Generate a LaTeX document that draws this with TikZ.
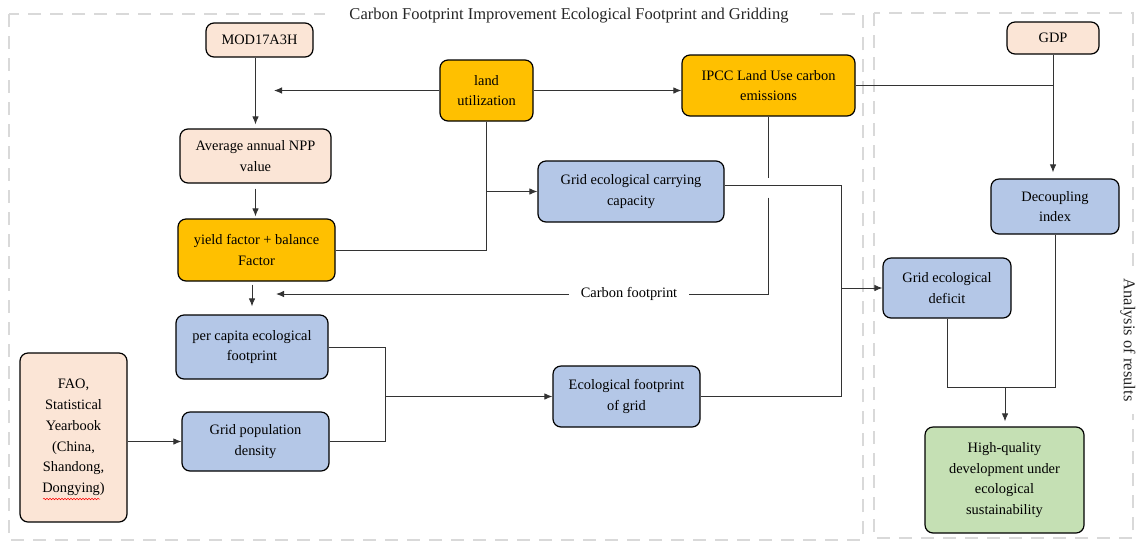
\documentclass[tikz,border=0pt]{standalone}
\usepackage{fontspec}
\setmainfont{Liberation Serif}
\usetikzlibrary{arrows.meta,decorations.pathmorphing}
\definecolor{peach}{HTML}{FBE5D6}
\definecolor{amber}{HTML}{FFC000}
\definecolor{steel}{HTML}{B4C7E7}
\definecolor{sage}{HTML}{C5E0B4}
\definecolor{framegray}{HTML}{D9D9D9}
\newcommand{\diagfont}{\fontsize{14.4}{20.7}\selectfont}
\newcommand{\headfont}{\fontsize{16.5}{19}\selectfont}
\tikzset{
	stagebox/.style = {align=center, inner sep=0pt, font=\diagfont,
		text=black, draw=black, line width=1.2pt, rounded corners=8pt},
	peachbox/.style = {stagebox, fill=peach},
	amberbox/.style = {stagebox, fill=amber},
	steelbox/.style = {stagebox, fill=steel},
	sagebox/.style = {stagebox, fill=sage},
	frame/.style = {draw=framegray, line width=2.6pt, dash pattern=on 13pt off 9pt},
	framelabel/.style = {font=\headfont, text=black!85, fill=white, inner ysep=2pt},
	link/.style = {draw=black!80, line width=0.9pt}
}

\begin{document}
\begin{tikzpicture}[>={Latex[length=8pt,width=6.5pt]}, x=1pt, y=-1pt]
\useasboundingbox (0,0) rectangle (1147,542);
%----------------- Frames --------------
\draw[frame] (9,14) rectangle (863,540);
\draw[frame] (874,13) rectangle (1133,538);
\node (T1) [framelabel, inner xsep=24pt] at (569,16)
	{Carbon Footprint Improvement Ecological Footprint and Gridding};
\node (T2) [framelabel, rotate=-90, inner xsep=13pt] at (1128,340) {Analysis of results};
%----------------- Boxes --------------
\node (mod) [peachbox, minimum width=107pt, minimum height=34pt] at (259.5,40) {MOD17A3H};
\node (land) [amberbox, minimum width=93pt, minimum height=61pt] at (486.5,90.5) {land\\utilization};
\node (ipcc) [amberbox, minimum width=173pt, minimum height=61pt] at (768.5,85.5)
	{IPCC Land Use carbon\\emissions};
\node (gdp) [peachbox, minimum width=92pt, minimum height=32pt] at (1053,38) {GDP};
\node (npp) [peachbox, minimum width=151pt, minimum height=54pt] at (255.5,156)
	{Average annual NPP\\value};
\node (yield) [amberbox, minimum width=157pt, minimum height=62pt] at (256.5,250)
	{yield factor + balance\\Factor};
\node (carry) [steelbox, minimum width=186pt, minimum height=61pt] at (631,191.5)
	{Grid ecological carrying\\capacity};
\node (decoup) [steelbox, minimum width=128pt, minimum height=55pt] at (1055,206.5)
	{Decoupling\\index};
\node (deficit) [steelbox, minimum width=128pt, minimum height=60pt] at (947,288)
	{Grid ecological\\deficit};
\node (percap) [steelbox, minimum width=152pt, minimum height=64pt] at (252,347)
	{per capita ecological\\footprint};
\node (fao) [peachbox, minimum width=107pt, minimum height=169pt] at (73.5,437.5)
	{FAO,\\Statistical\\Yearbook\\(China,\\Shandong,\\Dongying)};
\node (gridpop) [steelbox, minimum width=147pt, minimum height=59pt] at (255.5,441.5)
	{Grid population\\density};
\node (ecofp) [steelbox, minimum width=147pt, minimum height=61pt] at (626.5,396.5)
	{Ecological footprint\\of grid};
\node (hq) [sagebox, minimum width=159pt, minimum height=106pt] at (1004.5,480)
	{High-quality\\development under\\ecological\\sustainability};
\node (cfp) [font=\diagfont, inner xsep=12pt, inner ysep=2pt] at (629,294) {Carbon footprint};
% spell-check mark
\draw[red, line width=0.5pt, decorate, decoration={snake, amplitude=0.8pt, segment length=3pt}]
	(43,499) -- (100,499);
%----------------- Junctions --------------
\coordinate (landtip) at (274,90.5);
\coordinate (cfptip) at (276,294);
\coordinate (bus) at (841,0);
\coordinate (merge) at (385,0);
\coordinate (join) at (1005,387);
%----------------- Connectors --------------
\begin{scope}[link]
	\draw[->, shorten >=4pt] (mod.south -| npp.north) -- (npp.north);
	\draw[->] (land.west) -- (landtip);
	\draw[->] (land.east) -- (land.east -| ipcc.west);
	\draw[->, shorten <=5pt, shorten >=2pt] (npp.south) -- (npp.south |- yield.north);
	\draw (land.south) -- (land.south |- yield.east) -- (yield.east);
	\draw[->] (land.south |- carry.west) -- (carry.west);
	\draw[->, shorten <=3pt, shorten >=8pt] (yield.south -| percap.north) -- (percap.north);
	\draw (ipcc.south) -- ++(0,61) ++(0,20) -- (ipcc.south |- cfp.east) -- (cfp.east);
	\draw[->] (cfp.west) -- (cfptip);
	\draw (ipcc.east) -- (ipcc.east -| gdp.south);
	\draw[->, shorten >=6pt] (gdp.south) -- (gdp.south |- decoup.north);
	\draw ([yshift=6pt]carry.east) -| (bus |- ecofp.east) -- (ecofp.east);
	\draw[->] (bus |- deficit.west) -- (deficit.west);
	\draw (percap.east) -| (merge |- gridpop.east) -- (gridpop.east);
	\draw[->] (merge |- ecofp.west) -- (ecofp.west);
	\draw[->] (fao.east |- gridpop.west) -- (gridpop.west);
	\draw (deficit.south) -- (deficit.south |- join) -- (join -| decoup.south) -- (decoup.south);
	\draw[->, shorten >=5pt] (join) -- (join |- hq.north);
\end{scope}
\end{tikzpicture}
\end{document}
